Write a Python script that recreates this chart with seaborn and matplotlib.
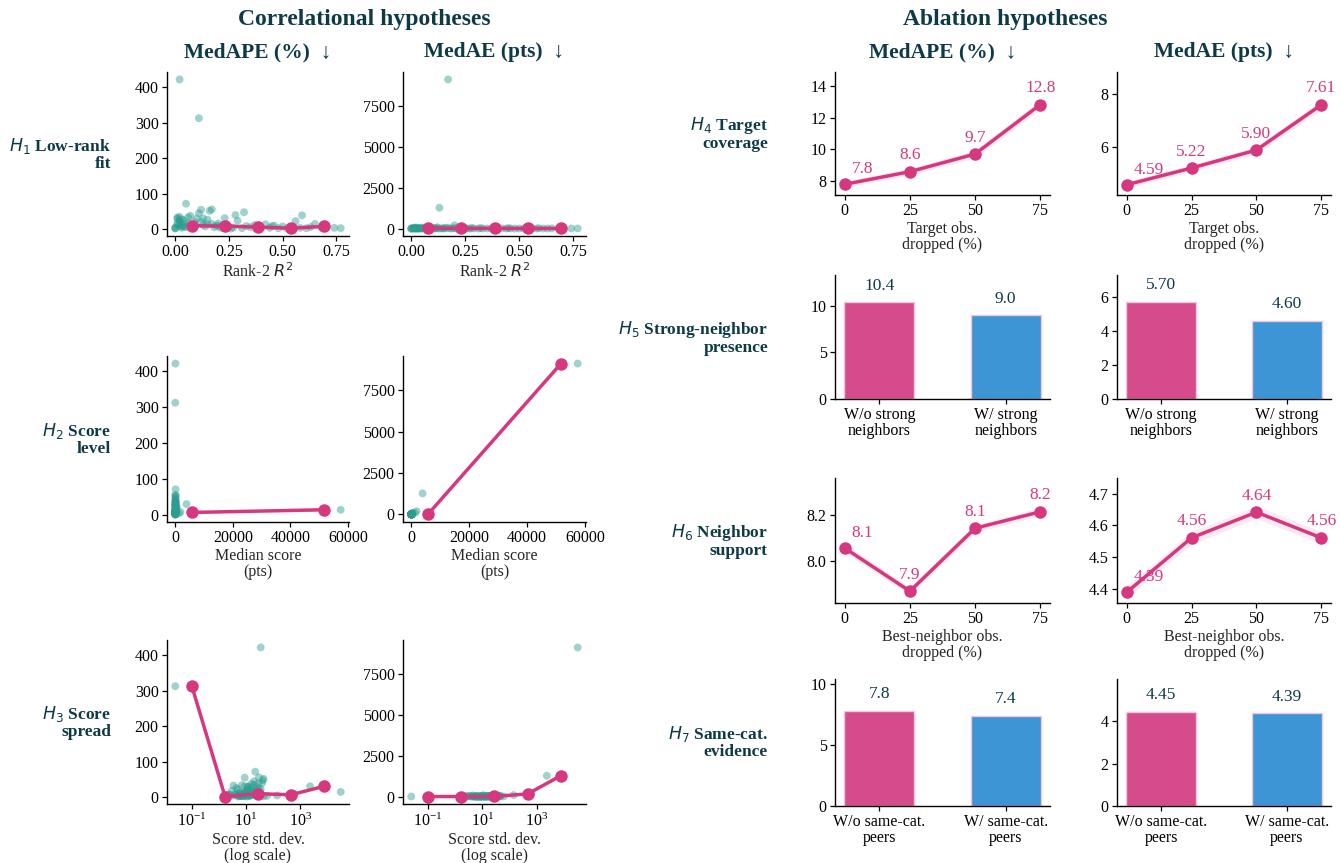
import matplotlib
matplotlib.use("Agg")
import matplotlib.pyplot as plt
import seaborn as sns
import pandas as pd

# ---- per-task points (teal scatter in the correlational panels) ----
task_r2 = [0.02, 0.11, 0.17, 0.13, 0.20, 0.24, 0.74, 0.77,
           0.00, 0.01, 0.01, 0.02, 0.02, 0.03, 0.03, 0.00, 0.04, 0.01,
           0.05, 0.02, 0.04, 0.00, 0.03, 0.05, 0.06, 0.07, 0.08, 0.09,
           0.10, 0.11, 0.12, 0.13, 0.14, 0.15, 0.16, 0.17, 0.18, 0.19,
           0.21, 0.22, 0.23, 0.25, 0.27, 0.28, 0.29, 0.31, 0.33, 0.35,
           0.37, 0.39, 0.40, 0.42, 0.44, 0.46, 0.48, 0.50, 0.52, 0.54,
           0.56, 0.58, 0.59, 0.61, 0.63, 0.65, 0.68, 0.70, 0.01, 0.02,
           0.03, 0.04, 0.06, 0.08, 0.12, 0.15, 0.20, 0.26, 0.32, 0.45]
task_median = [60, 4, 57500, 3900, 1800, 1300, 150, 90,
               20, 45, 30, 15, 60, 10, 80, 35, 25, 50,
               12, 40, 100, 8, 70, 110, 30, 55, 20, 90,
               40, 65, 35, 25, 75, 45, 120, 60, 20, 85,
               30, 55, 40, 70, 35, 95, 50, 25, 65, 45,
               80, 30, 55, 70, 40, 60, 35, 85, 45, 30,
               100, 50, 75, 40, 60, 90, 55, 35, 200, 350,
               18, 140, 260, 90, 480, 55, 160, 28, 75, 310]
task_std = [35, 0.025, 31000, 2300, 630, 140, 60, 45,
            3, 8, 12, 5, 20, 2.5, 25, 6, 9, 15,
            4, 10, 30, 2, 18, 22, 7, 16, 4, 22,
            12, 20, 9, 6, 18, 11, 45, 30, 5, 24,
            7, 14, 9, 20, 8, 40, 12, 6, 17, 10,
            22, 5, 13, 19, 9, 15, 7, 25, 11, 6,
            35, 14, 28, 9, 16, 30, 13, 8, 3.5, 4.5,
            1.8, 2.2, 3, 6.5, 11, 16, 26, 1.6, 42, 5.5]
task_medape = [422, 313, 15, 31, 9, 5, 4, 3,
               5, 12, 30, 22, 35, 8, 28, 3, 15, 18,
               6, 10, 25, 2, 12, 72, 34, 38, 9, 20,
               30, 45, 55, 12, 8, 14, 52, 56, 6, 10,
               4, 11, 31, 7, 5, 40, 24, 3, 9, 6,
               12, 2, 5, 14, 4, 10, 3, 8, 2, 5,
               23, 4, 39, 3, 6, 15, 4, 8, 33, 26,
               4, 7, 18, 11, 21, 27, 16, 2, 48, 9]
task_medae = [12, 1, 9100, 1270, 200, 90, 6, 4,
              1, 4, 8, 3, 14, 1, 20, 1, 4, 9,
              1, 4, 22, 0.2, 9, 60, 10, 20, 2, 15,
              12, 25, 18, 3, 6, 6, 55, 30, 1, 8,
              1, 5, 12, 5, 2, 35, 10, 1, 5, 3,
              9, 0.5, 3, 8, 2, 5, 1, 6, 1, 1,
              20, 2, 25, 1, 3, 12, 2, 2, 45, 70,
              1, 12, 30, 8, 80, 12, 22, 0.5, 30, 25]

# ---- binned medians (pink lines, correlational panels) ----
h1_bin_x = [0.077, 0.231, 0.385, 0.539, 0.693]
h1_bin_medape = [10, 9, 6, 3, 8]
h1_bin_medae = [20, 15, 10, 6, 8]
h2_bin_x = [5750, 51750]
h2_bin_medape = [7.6, 15]
h2_bin_medae = [10, 9100]
h3_bin_x = [0.102, 1.70, 27.5, 457, 7590]
h3_bin_medape = [313, 2, 10, 7, 31]
h3_bin_medae = [0, 2, 5, 160, 1280]

# ---- ablation results ----
drop_pct = [0, 25, 50, 75]
h4_medape = [7.78, 8.58, 9.70, 12.83]
h4_medape_err = [0.22, 0.22, 0.25, 0.3]
h4_medae = [4.59, 5.22, 5.90, 7.61]
h4_medae_err = [0.13, 0.13, 0.15, 0.18]
h6_medape = [8.057, 7.871, 8.143, 8.214]
h6_medape_err = [0.018, 0.018, 0.018, 0.018]
h6_medae = [4.389, 4.561, 4.642, 4.561]
h6_medae_err = [0.02, 0.02, 0.02, 0.02]

h5_groups = ["W/o strong\nneighbors", "W/ strong\nneighbors"]
h5_medape = [10.4, 8.97]
h5_medae = [5.70, 4.60]
h7_groups = ["W/o same-cat.\npeers", "W/ same-cat.\npeers"]
h7_medape = [7.8, 7.4]
h7_medae = [4.45, 4.39]

TEAL = "#2a9d8f"
PINK = "#d6387f"
BAR_PINK = "#d64b8c"
BAR_BLUE = "#3d95d5"
DARK = "#0e3a47"

sns.set_theme(style="ticks")
plt.rcParams["font.family"] = ["Liberation Serif", "DejaVu Serif"]
plt.rcParams.update({
    "axes.linewidth": 1.0,
    "xtick.labelsize": 11.5,
    "ytick.labelsize": 11.5,
    "axes.labelsize": 11.5,
    "xtick.color": "black",
    "ytick.color": "black",
    "axes.edgecolor": "black",
    "xtick.major.size": 3.5,
    "ytick.major.size": 3.5,
    "xtick.major.width": 0.9,
    "ytick.major.width": 0.9,
    "xtick.major.pad": 2.5,
    "ytick.major.pad": 2.5,
    "axes.labelpad": 1.5,
})

W, H = 1340, 863
fig = plt.figure(figsize=(13.4, 8.63), dpi=100)


def ax_at(x0, x1, y0, y1):
    # pixel box -> figure axes
    return fig.add_axes([x0 / W, 1 - y1 / H, (x1 - x0) / W, (y1 - y0) / H])


tasks = pd.DataFrame({"r2": task_r2, "median": task_median, "std": task_std,
                      "medape": task_medape, "medae": task_medae})

left_cols = [(167, 349), (403, 586)]
left_rows = [(72, 236), (356, 522), (640, 804)]
right_cols = [(835, 1050), (1117, 1331)]
right_rows = [(72, 195), (275, 399), (478, 603), (679, 806)]


def corr_panel(ax, xcol, ycol, bx, by, xlabel, logx=False):
    sns.scatterplot(data=tasks, x=xcol, y=ycol, ax=ax, color=TEAL, alpha=0.45,
                    s=32, edgecolor="none", legend=False)
    sns.lineplot(x=bx, y=by, ax=ax, color=PINK, lw=2.5, marker="o",
                 markersize=9, markeredgewidth=0, estimator=None, sort=False)
    if logx:
        ax.set_xscale("log")
        ax.set_xticks([0.1, 10, 1000])
        ax.minorticks_off()
    ax.set_xlabel(xlabel, linespacing=1.0)
    ax.set_ylabel("")
    sns.despine(ax=ax)


corr_specs = [
    ("r2", h1_bin_x, h1_bin_medape, h1_bin_medae, "Rank-2 $R^2$", False),
    ("median", h2_bin_x, h2_bin_medape, h2_bin_medae, "Median score\n(pts)", False),
    ("std", h3_bin_x, h3_bin_medape, h3_bin_medae, "Score std. dev.\n(log scale)", True),
]
for r, (xcol, bx, bape, bae, xl, lg) in enumerate(corr_specs):
    y0, y1 = left_rows[r]
    a1 = ax_at(left_cols[0][0], left_cols[0][1], y0, y1)
    corr_panel(a1, xcol, "medape", bx, bape, xl, lg)
    a1.set_yticks([0, 100, 200, 300, 400])
    a2 = ax_at(left_cols[1][0], left_cols[1][1], y0, y1)
    corr_panel(a2, xcol, "medae", bx, bae, xl, lg)
    a2.set_yticks([0, 2500, 5000, 7500])
    if xcol == "r2":
        for a in (a1, a2):
            a.set_xticks([0, 0.25, 0.5, 0.75])
            a.set_xticklabels(["0.00", "0.25", "0.50", "0.75"])
    if xcol == "median":
        for a in (a1, a2):
            a.set_xticks([0, 20000, 40000, 60000])
            a.set_xticklabels(["0", "20000", "40000", "60000"])


def line_panel(ax, y, err, fmt, ylim, yticks, xlabel):
    lo = [v - e for v, e in zip(y, err)]
    hi = [v + e for v, e in zip(y, err)]
    ax.fill_between(drop_pct, lo, hi, color=PINK, alpha=0.1, lw=0)
    sns.lineplot(x=drop_pct, y=y, ax=ax, color=PINK, lw=2.5, marker="o",
                 markersize=9, markeredgewidth=0)
    for i, (xi, yi) in enumerate(zip(drop_pct, y)):
        if i == 0:
            ax.annotate(fmt.format(yi), (xi, yi), xytext=(5, 5), textcoords="offset points",
                        ha="left", va="bottom", color=PINK, fontsize=12.5)
        else:
            ax.annotate(fmt.format(yi), (xi, yi), xytext=(0, 6), textcoords="offset points",
                        ha="center", va="bottom", color=PINK, fontsize=12.5)
    ax.set_xlim(-3.75, 78.75)
    ax.set_xticks(drop_pct)
    ax.set_ylim(*ylim)
    ax.set_yticks(yticks)
    ax.set_xlabel(xlabel, linespacing=1.0)
    sns.despine(ax=ax)


def bar_panel(ax, groups, vals, fmt, ylim, yticks):
    sns.barplot(x=groups, y=vals, hue=groups, palette=[BAR_PINK, BAR_BLUE],
                width=0.55, saturation=1, ax=ax, legend=False, linewidth=1.0,
                edgecolor=["#f3c6db", "#b9daf2"])
    for i, v in enumerate(vals):
        ax.annotate(fmt.format(v), (i, v), xytext=(0, 6), textcoords="offset points",
                    ha="center", va="bottom", color=DARK, fontsize=12.5)
    ax.set_xlim(-0.35, 1.35)
    ax.set_ylim(*ylim)
    ax.set_yticks(yticks)
    for t in ax.get_xticklabels():
        t.set_linespacing(1.0)
    sns.despine(ax=ax)


c3, c4 = right_cols
r = right_rows
line_panel(ax_at(c3[0], c3[1], *r[0]), h4_medape, h4_medape_err, "{:.1f}",
           (7.1, 14.9), [8, 10, 12, 14], "Target obs.\ndropped (%)")
line_panel(ax_at(c4[0], c4[1], *r[0]), h4_medae, h4_medae_err, "{:.2f}",
           (4.2, 8.85), [6, 8], "Target obs.\ndropped (%)")
bar_panel(ax_at(c3[0], c3[1], *r[1]), h5_groups, h5_medape, "{:.1f}", (0, 13.3), [0, 5, 10])
bar_panel(ax_at(c4[0], c4[1], *r[1]), h5_groups, h5_medae, "{:.2f}", (0, 7.27), [0, 2, 4, 6])
line_panel(ax_at(c3[0], c3[1], *r[2]), h6_medape, h6_medape_err, "{:.1f}",
           (7.82, 8.36), [8.0, 8.2], "Best-neighbor obs.\ndropped (%)")
line_panel(ax_at(c4[0], c4[1], *r[2]), h6_medae, h6_medae_err, "{:.2f}",
           (4.355, 4.75), [4.4, 4.5, 4.6, 4.7], "Best-neighbor obs.\ndropped (%)")
bar_panel(ax_at(c3[0], c3[1], *r[3]), h7_groups, h7_medape, "{:.1f}", (0, 10.4), [0, 5, 10])
bar_panel(ax_at(c4[0], c4[1], *r[3]), h7_groups, h7_medae, "{:.2f}", (0, 6.0), [0, 2, 4])

# ---- titles and row labels ----
fig.text(364 / W, 1 - 20 / H, "Correlational hypotheses", ha="center", va="center",
         fontsize=17, fontweight="bold", color=DARK)
fig.text(1005 / W, 1 - 20 / H, "Ablation hypotheses", ha="center", va="center",
         fontsize=17, fontweight="bold", color=DARK)
headers = ["MedAPE (%)  \u2193", "MedAE (pts)  \u2193"]
for (x0, x1), h in zip(left_cols + right_cols, headers * 2):
    fig.text((x0 + x1) / 2 / W, 1 - 52 / H, h, ha="center", va="center",
             fontsize=15.5, fontweight="bold", color=DARK)

left_labels = ["$H_1$ Low-rank\nfit", "$H_2$ Score\nlevel", "$H_3$ Score\nspread"]
for (y0, y1), lab in zip(left_rows, left_labels):
    fig.text(111 / W, 1 - (y0 + y1) / 2 / H, lab, ha="right", va="center",
             fontsize=12.5, fontweight="bold", color=DARK, linespacing=1.0)
right_labels = ["$H_4$ Target\ncoverage", "$H_5$ Strong-neighbor\npresence",
                "$H_6$ Neighbor\nsupport", "$H_7$ Same-cat.\nevidence"]
for (y0, y1), lab in zip(right_rows, right_labels):
    fig.text(768 / W, 1 - (y0 + y1) / 2 / H, lab, ha="right", va="center",
             fontsize=12.5, fontweight="bold", color=DARK, linespacing=1.0)

fig.savefig("out.png", dpi=100)
